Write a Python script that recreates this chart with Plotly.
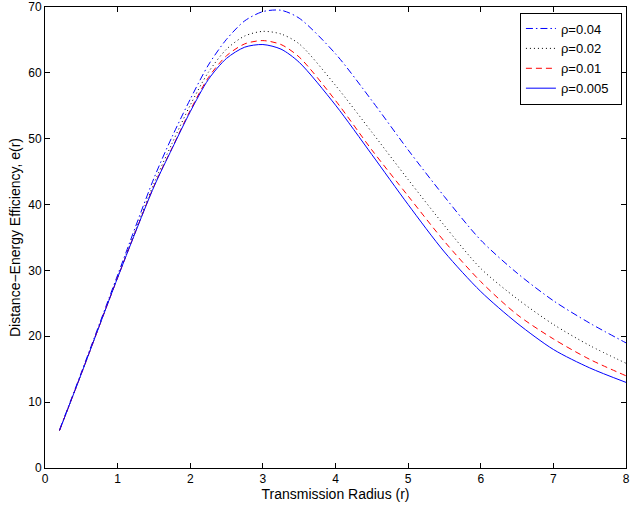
import plotly.graph_objects as go

# Transmission radius samples
r = [0.2, 0.5, 1.0, 1.5, 1.75, 2.0, 2.25, 2.5, 2.75, 3.0, 3.25, 3.5, 4.0, 4.5, 5.0, 5.5, 6.0, 6.5, 7.0, 7.5, 8.0]

# Distance-energy efficiency for each rho
e_rho_004 = [5.8, 14.5, 29.3, 44.0, 50.3, 56.0, 61.2, 65.1, 67.9, 69.3, 69.5, 68.3, 62.9, 55.8, 48.3, 41.2, 34.6, 29.6, 25.4, 22.0, 19.0]
e_rho_002 = [5.7, 14.3, 29.0, 43.2, 49.3, 55.1, 60.1, 63.6, 65.6, 66.3, 65.9, 64.4, 58.1, 51.0, 43.8, 36.8, 30.3, 25.7, 21.8, 18.6, 15.9]
e_rho_001 = [5.7, 14.3, 28.9, 42.8, 48.6, 54.3, 59.3, 62.6, 64.4, 64.9, 64.3, 62.4, 55.8, 48.3, 41.3, 34.4, 28.3, 23.3, 19.6, 16.5, 14.0]
e_rho_0005 = [5.7, 14.3, 28.9, 42.7, 48.5, 54.1, 59.0, 62.2, 63.9, 64.3, 63.6, 61.6, 55.1, 47.6, 40.0, 32.8, 26.8, 22.0, 18.0, 15.2, 13.0]

series_names = ["ρ=0.04", "ρ=0.02", "ρ=0.01", "ρ=0.005"]
series_values = [e_rho_004, e_rho_002, e_rho_001, e_rho_0005]
styles = [
    dict(color="#0000ff", dash="7px,3px,1.5px,3px"),
    dict(color="#000000", dash="1px,3px"),
    dict(color="#ff0000", dash="6px,4px"),
    dict(color="#0000ff", dash="solid"),
]

x_ticks = [0, 1, 2, 3, 4, 5, 6, 7, 8]
y_ticks = [0, 10, 20, 30, 40, 50, 60, 70]

fig = go.Figure()
for name, vals, st in zip(series_names, series_values, styles):
    fig.add_trace(go.Scatter(
        x=r, y=vals, mode="lines", name=name + "\u00a0\u00a0",
        line=dict(color=st["color"], dash=st["dash"], width=1, shape="spline", smoothing=0.8),
    ))

font_family = "Arial, Liberation Sans, Helvetica, sans-serif"
fig.update_layout(
    width=631, height=510,
    margin=dict(l=45, r=5, t=7, b=42),
    plot_bgcolor="white", paper_bgcolor="white",
    font=dict(family=font_family, size=12, color="black"),
    showlegend=True,
    legend=dict(
        x=0.993, y=0.988, xanchor="right", yanchor="top",
        bgcolor="white", bordercolor="black", borderwidth=1,
        font=dict(family=font_family, size=13, color="black"),
        itemwidth=30, tracegroupgap=0,
    ),
)
fig.update_xaxes(
    range=[0, 8], tickvals=x_ticks, ticktext=[str(v) for v in x_ticks],
    ticks="inside", ticklen=5, tickcolor="black", tickwidth=1,
    showline=True, linecolor="black", linewidth=1, mirror="ticks",
    showgrid=False, zeroline=False, automargin=False,
    title=dict(text="Transmission Radius (r)", font=dict(size=14), standoff=0),
    tickfont=dict(size=12),
)
fig.update_yaxes(
    range=[0, 70], tickvals=y_ticks, ticktext=[str(v) for v in y_ticks],
    ticks="inside", ticklen=5, tickcolor="black", tickwidth=1,
    showline=True, linecolor="black", linewidth=1, mirror="ticks",
    showgrid=False, zeroline=False, automargin=False,
    title=dict(text="Distance−Energy Efficiency, e(r)", font=dict(size=14), standoff=4),
    tickfont=dict(size=12),
)

fig.write_html("out.html", config={"displayModeBar": False},
               post_script="document.body.style.margin='0';document.body.style.overflow='hidden';")
